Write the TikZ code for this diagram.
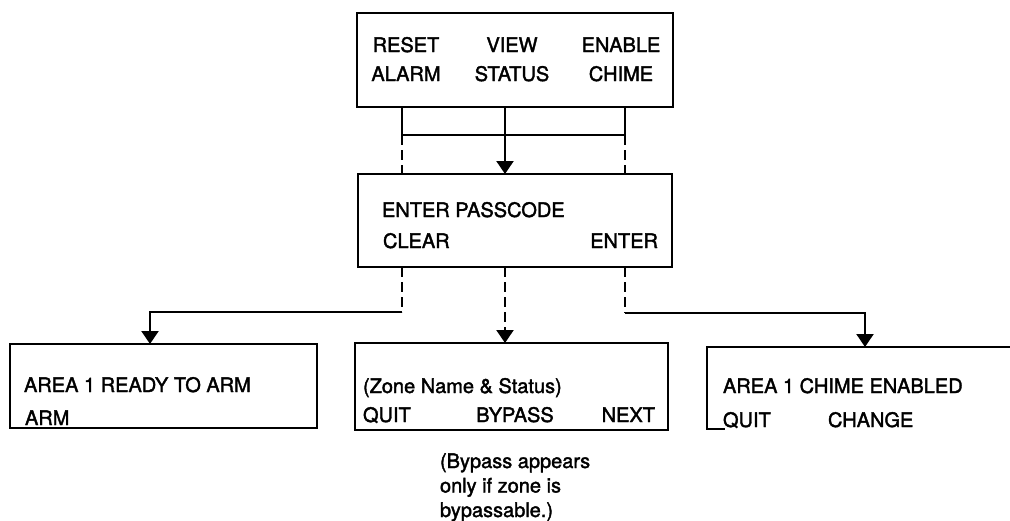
\documentclass[tikz,border=0pt]{standalone}
\usepackage{fontspec}
\setmainfont{TeX Gyre Heros}[FakeBold=1.8]
\usetikzlibrary{arrows.meta}
\begin{document}
\begin{tikzpicture}[x=1pt,y=-1pt,
  every node/.style={inner sep=0pt,outer sep=0pt},
  box/.style={draw,line width=2.2pt,rectangle},
  lbl/.style={font=\fontsize{20}{24}\selectfont},
  conn/.style={line width=2.2pt},
  dsh/.style={line width=2.2pt,dash pattern=on 10pt off 5pt},
  arr/.style={-{Triangle[length=13pt,width=17pt]}}
]
\useasboundingbox (0,0) rectangle (1010,520);
% boxes
\node[box,minimum width=316pt,minimum height=94pt] (menu) at (515,60) {};
\node[box,minimum width=314pt,minimum height=93pt] (pass) at (515,220.5) {};
\node[box,minimum width=307pt,minimum height=84pt] (arm) at (163.5,386) {};
\node[box,minimum width=313pt,minimum height=87pt] (zone) at (511.5,386.5) {};
\coordinate (chimeNW) at (707,347);
\coordinate (chimeNE) at (1012,347);
\coordinate (chimeSW) at (707,429);
\coordinate (chimeS) at (725,429);
\draw[line width=2.2pt] (chimeNE) -- (chimeNW) -- (chimeSW) -- (chimeS);
% top box texts
\node[lbl,align=center,anchor=base] (reset) at (406,81) {RESET\\[5pt]ALARM};
\node[lbl,align=center,anchor=base] (view) at (512,81) {VIEW\\[5pt]STATUS};
\node[lbl,align=center,anchor=base] (enable) at (621,81) {ENABLE\\[5pt]CHIME};
% pass box texts
\node[lbl,anchor=base west] (passtitle) at (382,217) {ENTER PASSCODE};
\node[lbl,anchor=base west] (clear) at (383,248) {CLEAR};
\node[lbl,anchor=base east] (enter) at (658,248) {ENTER};
% bottom left
\node[lbl,anchor=base west] (armtitle) at (24,392) {AREA 1 READY TO ARM};
\node[lbl,anchor=base west] (armkey) at (25,425) {ARM};
% bottom middle
\node[lbl,anchor=base west] (zonetitle) at (363,393) {(Zone Name \& Status)};
\node[lbl,anchor=base west] (zquit) at (363,422) {QUIT};
\node[lbl,anchor=base] (zbyp) at (515,422) {BYPASS};
\node[lbl,anchor=base east] (znext) at (655,422) {NEXT};
% bottom right
\node[lbl,anchor=base west] (chimetitle) at (723,393) {AREA 1 CHIME ENABLED};
\node[lbl,anchor=base west] (cquit) at (723,427) {QUIT};
\node[lbl,anchor=base west] (cchange) at (828,427) {CHANGE};
% note
\node[lbl,align=left,anchor=base west] (note) at (440,517) {(Bypass appears\\[0.5pt]only if zone is\\[0.5pt]bypassable.)};
% connector coordinates
\coordinate (xl) at (402,0);
\coordinate (xc) at (505,0);
\coordinate (xr) at (625,0);
\coordinate (jl) at (402,135);
\coordinate (jr) at (625,135);
\coordinate (bl) at (402,312);
\coordinate (br) at (625,313);
\coordinate (tl) at (150,312);
\coordinate (tr) at (865,313);
% top connectors
\draw[conn] (menu.south -| xl) -- (jl) -- (jr) -- (menu.south -| xr);
\draw[dsh] (jl) -- (pass.north -| xl);
\draw[dsh] (jr) -- (pass.north -| xr);
\draw[conn,arr] (menu.south -| xc) -- (pass.north -| xc);
% bottom connectors
\draw[dsh] (pass.south -| xl) -- (bl);
\draw[conn,arr] (bl) -- (tl) -- (arm.north -| tl);
\draw[dsh,arr] (pass.south -| xc) -- (zone.north -| xc);
\draw[dsh] (pass.south -| xr) -- (br);
\draw[conn,arr] (br) -- (tr) -- (chimeNW -| tr);
\end{tikzpicture}
\end{document}
